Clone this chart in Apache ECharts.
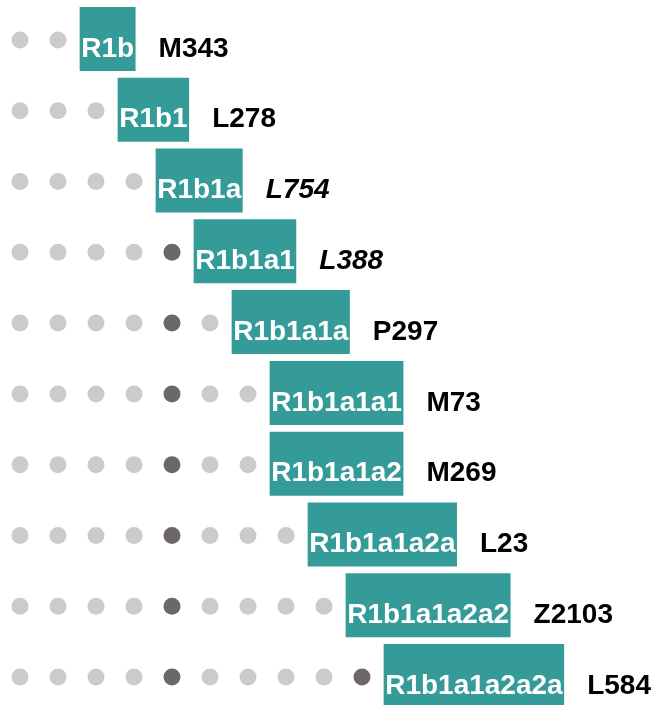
<!DOCTYPE html>
<html>
<head>
<meta charset="utf-8">
<script src="https://cdn.jsdelivr.net/npm/echarts@6/dist/echarts.min.js"></script>
<style>
html,body{margin:0;padding:0;background:#fff;}
#tree{width:653px;height:705px;}
</style>
</head>
<body>
<div id="tree"></div>
<script>
// haplogroup rows, top to bottom
var clades = ['R1b','R1b1','R1b1a','R1b1a1','R1b1a1a','R1b1a1a1','R1b1a1a2','R1b1a1a2a','R1b1a1a2a2','R1b1a1a2a2a'];
var snps = ['M343','L278','L754','L388','P297','M73','M269','L23','Z2103','L584'];
var italicSnp = [false,false,true,true,false,false,false,false,false,false];
var dotCounts = [2,3,4,5,6,7,7,8,9,10];
var darkDots = [[],[],[],[4],[4],[4],[4],[4],[4],[4,9]];

var teal = '#359b98';
var lightDot = '#cbcbcb';
var darkDot = '#6d6868';
var fontFam = '"Liberation Sans", Arial, sans-serif';

var lightData = [], darkData = [];
dotCounts.forEach(function(n, row){
  for (var i = 0; i < n; i++) {
    if (darkDots[row].indexOf(i) >= 0) darkData.push([i, row]);
    else lightData.push([i, row]);
  }
});

var boxData = clades.map(function(c, row){
  return [dotCounts[row], row, c, snps[row], italicSnp[row] ? 1 : 0];
});

var cv = document.createElement('canvas').getContext('2d');
function textW(txt, font){
  cv.font = font;
  return cv.measureText(txt).width;
}

var chart = echarts.init(document.getElementById('tree'));
var option = {
  animation: false,
  grid: {left: 20, right: 25, top: 40, bottom: 28},
  xAxis: {type: 'value', min: 0, max: 16, show: false},
  yAxis: {type: 'value', min: 0, max: 9, inverse: true, show: false},
  series: [
    {
      type: 'scatter',
      symbolSize: 17,
      itemStyle: {color: lightDot, opacity: 1},
      data: lightData
    },
    {
      type: 'scatter',
      symbolSize: 17,
      itemStyle: {color: darkDot, opacity: 1},
      data: darkData
    },
    {
      type: 'custom',
      renderItem: function(params, api){
        var level = api.value(0), row = api.value(1);
        var name = clades[row], snp = snps[row];
        var p = api.coord([level - 0.43, row]);
        var boxFont = 'bold 28px ' + fontFam;
        var w = textW(name, boxFont) + 3;
        return {
          type: 'group',
          children: [
            {
              type: 'rect',
              shape: {x: p[0], y: p[1] - 33, width: w, height: 64},
              style: {fill: teal}
            },
            {
              type: 'text',
              style: {
                text: name, x: p[0] + w / 2, y: p[1] + 9,
                align: 'center', verticalAlign: 'middle',
                font: boxFont, fill: '#ffffff'
              }
            },
            {
              type: 'text',
              style: {
                text: snp, x: p[0] + w + 23, y: p[1] + 9,
                align: 'left', verticalAlign: 'middle',
                font: (italicSnp[row] ? 'italic ' : '') + 'bold 28px ' + fontFam,
                fill: '#000000'
              }
            }
          ]
        };
      },
      data: boxData
    }
  ]
};
chart.setOption(option);
</script>
</body>
</html>
